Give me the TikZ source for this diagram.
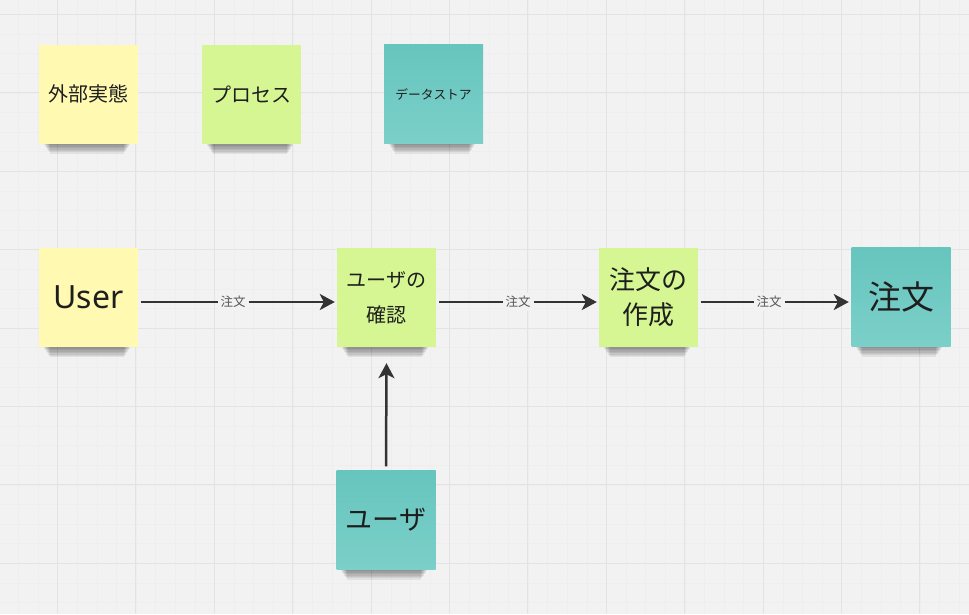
\documentclass[tikz,border=0pt]{standalone}
\usepackage{fontspec}
\setmainfont{Noto Sans CJK JP}
\newfontfamily\latinfont{Noto Sans}
\usetikzlibrary{arrows.meta}
\definecolor{bgc}{HTML}{F2F2F2}
\definecolor{minorc}{HTML}{EEEEEE}
\definecolor{majorc}{HTML}{E3E3E3}
\definecolor{yellowc}{HTML}{FFF9B1}
\definecolor{greenc}{HTML}{D5F692}
\definecolor{tealc}{HTML}{6DCAC3}
\definecolor{tealtop}{HTML}{66C5BE}
\definecolor{tealbot}{HTML}{7BD0C9}
\definecolor{inkc}{HTML}{1E1E1E}
\definecolor{linec}{HTML}{333333}
\definecolor{labelc}{HTML}{555555}
\tikzset{
  note/.style={rectangle, minimum width=99pt, minimum height=99pt, inner sep=0pt,
    text=inkc, align=center},
  tealnote/.style={note, top color=tealtop, bottom color=tealbot},
  flow/.style={draw=linec, line width=2.5pt, -{Stealth[length=15pt,width=16pt,inset=4pt]}},
  flowlabel/.style={fill=bgc, text=labelc, inner sep=3pt, font=\fontsize{12.5}{14}\selectfont},
}
\begin{document}
\begin{tikzpicture}[x=1pt,y=-1pt]
\useasboundingbox (0,0) rectangle (969,614);
\fill[bgc] (0,0) rectangle (969,614);
% grid
\foreach \x in {-1.1,18.5,...,975} \draw[minorc, line width=0.6pt] (\x,0) -- (\x,614);
\foreach \y in {-5.1,14.5,...,620} \draw[minorc, line width=0.6pt] (0,\y) -- (969,\y);
\foreach \x in {57.5,135.9,...,975} \draw[majorc, line width=1pt] (\x,0) -- (\x,614);
\foreach \y in {14.5,92.9,...,620} \draw[majorc, line width=1pt] (0,\y) -- (969,\y);
% shadows
\foreach \cx/\cy in {88.5/94, 251.5/94.5, 433.5/94, 88.5/297.5, 386.5/297.5, 648.5/297.5, 901/297, 386/520} {
  \foreach \i in {1,...,7} {
    \fill[black, opacity=0.065] (\cx-46+\i, \cy+46) rectangle (\cx+42-\i, \cy+50+1.4*\i);
  }
}
% legend notes
\node[note, fill=yellowc, font=\fontsize{20}{34}\selectfont] (ext) at (88.5,94) {外部実態};
\node[note, fill=greenc, font=\fontsize{20}{34}\selectfont] (proc) at (251.5,94.5) {プロセス};
\node[tealnote, font=\fontsize{12.7}{16}\selectfont] (store) at (433.5,94) {データストア};
% diagram notes
\node[note, fill=yellowc, font=\latinfont\fontsize{32}{38}\selectfont] (user) at (88.5,297.5) {User};
\node[note, fill=greenc, font=\fontsize{20}{35}\selectfont] (check) at (386.5,297.5) {ユーザの\\確認};
\node[note, fill=greenc, font=\fontsize{26}{35}\selectfont] (create) at (648.5,297.5) {注文の\\作成};
\node[tealnote, font=\fontsize{33}{38}\selectfont] (order) at (901,297) {注文};
\node[tealnote, font=\fontsize{27}{32}\selectfont] (userds) at (386,520) {ユーザ};
% connectors
\draw[flow] ([xshift=3pt,yshift=-4.5pt]user.east) -- node[flowlabel, pos=0.475] {注文} ([xshift=-2pt,yshift=-4.5pt]check.west);
\draw[flow] ([xshift=3pt,yshift=-4.5pt]check.east) -- node[flowlabel, pos=0.5] {注文} ([xshift=-2pt,yshift=-4.5pt]create.west);
\draw[flow] ([xshift=3pt,yshift=-4.5pt]create.east) -- node[flowlabel, pos=0.46] {注文} ([xshift=-2.5pt,yshift=-5pt]order.west);
\draw[flow] ([yshift=4pt]userds.north) -- ([yshift=-16pt]check.south);
\end{tikzpicture}
\end{document}
